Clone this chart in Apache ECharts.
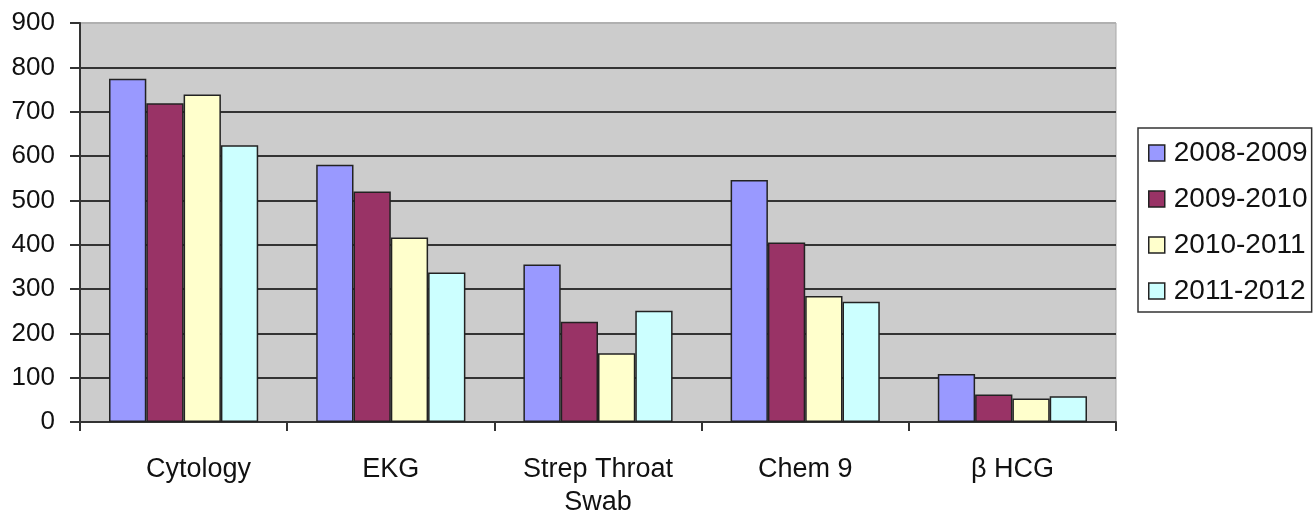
<!DOCTYPE html>
<html>
<head>
<meta charset="utf-8">
<script src="https://cdn.jsdelivr.net/npm/echarts@6/dist/echarts.min.js"></script>
<style>
html,body{margin:0;padding:0;background:#fff;}
#chart{width:1315px;height:512px;}
</style>
</head>
<body>
<div id="chart"></div>
<script>
const categories = ['Cytology', 'EKG', 'Strep Throat\nSwab', 'Chem 9', 'β HCG'];
const seriesNames = ['2008-2009', '2009-2010', '2010-2011', '2011-2012'];
const values2008 = [774, 580, 355, 546, 108];
const values2009 = [719, 520, 226, 405, 62];
const values2010 = [739, 416, 155, 284, 53];
const values2011 = [624, 337, 251, 271, 58];
const seriesColors = ['#9999FF', '#993366', '#FFFFCC', '#CCFFFF'];
const yTicks = [0, 100, 200, 300, 400, 500, 600, 700, 800, 900];

const allValues = [values2008, values2009, values2010, values2011];
const font = 'Liberation Sans, Arial, sans-serif';

const chart = echarts.init(document.getElementById('chart'), null, {renderer: 'canvas'});
const splitColors = yTicks.map((t, i) => i === yTicks.length - 1 ? '#b0b0b0' : '#333333');

chart.setOption({
  animation: false,
  backgroundColor: '#ffffff',
  grid: {
    left: 80, right: 199, top: 23, bottom: 90,
    show: true, backgroundColor: '#cccccc', borderColor: '#a8a8a8', borderWidth: 1,
    containLabel: false,
    outerBoundsMode: 'none'
  },
  legend: {
    orient: 'vertical',
    left: 1138, top: 128,
    padding: [10, 4, 6, 10],
    backgroundColor: '#ffffff',
    borderColor: '#333333', borderWidth: 1.5, borderRadius: 0,
    icon: 'rect',
    itemWidth: 16, itemHeight: 16, itemGap: 16,
    itemStyle: {borderColor: '#222222', borderWidth: 1.5},
    textStyle: {fontFamily: font, fontSize: 28, color: '#111111', lineHeight: 30, padding: [0, 0, 0, 4]},
    data: seriesNames
  },
  xAxis: {
    type: 'category',
    data: categories,
    axisLine: {show: true, lineStyle: {color: '#333333', width: 2}},
    axisTick: {show: true, length: 9, inside: false, lineStyle: {color: '#333333', width: 2}},
    axisLabel: {
      fontFamily: font, fontSize: 27, color: '#111111', margin: 31, lineHeight: 33, interval: 0,
      formatter: (v, idx) => idx === 0 ? '{s|' + v + '}' : v,
      rich: {s: {fontFamily: font, fontSize: 27, color: '#111111', lineHeight: 33, padding: [0, 0, 0, 30]}}
    },
    splitLine: {show: false}
  },
  yAxis: {
    type: 'value',
    min: 0, max: 900, interval: 100,
    axisLine: {show: true, lineStyle: {color: '#333333', width: 2}},
    axisTick: {show: true, length: 10, lineStyle: {color: '#333333', width: 2}},
    axisLabel: {fontFamily: font, fontSize: 26, color: '#111111', margin: 25},
    splitLine: {show: true, lineStyle: {color: splitColors, width: 2}}
  },
  series: seriesNames.map((name, i) => ({
    name: name,
    type: 'bar',
    data: allValues[i],
    barGap: '0%',
    barCategoryGap: '28%',
    itemStyle: {color: seriesColors[i], borderColor: '#222222', borderWidth: 1.5}
  }))
});
</script>
</body>
</html>
